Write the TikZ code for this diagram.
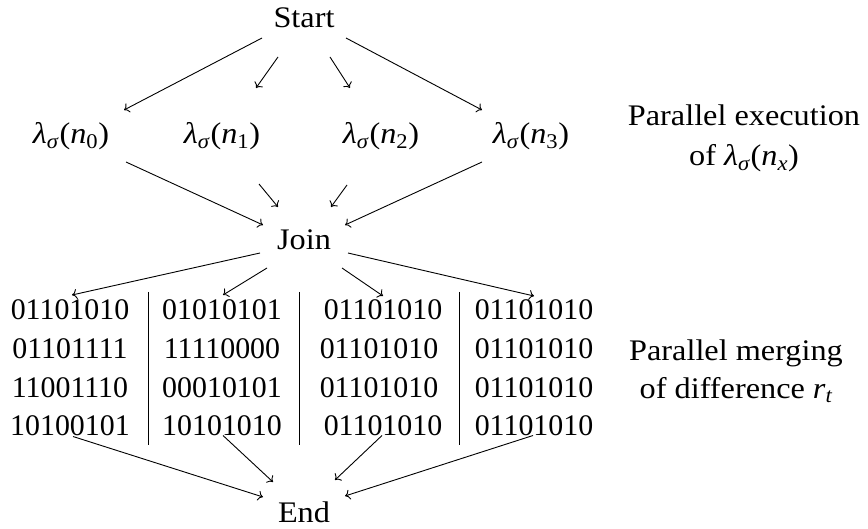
\RequirePackage{fix-cm}
\documentclass[tikz,border=0pt]{standalone}
\usepackage{fontspec}
\setmainfont{Liberation Serif}
% slightly wider face for the words and formulas
\newfontfamily\widefont[FakeStretch=1.08]{Liberation Serif}
\usetikzlibrary{arrows.meta,calc}
% lambda_sigma(n_x) set in the italic of the text face
\newcommand{\lamsig}[1]{{\itshape λ}\textsubscript{\itshape σ}\kern1pt({\itshape n}\textsubscript{#1})}
\begin{document}
\begin{tikzpicture}[x=1bp,y=-1bp,
  lbl/.style={anchor=base,inner sep=0pt,font=\fontsize{30}{36}\selectfont},
  wlbl/.style={lbl,font=\fontsize{30}{36}\widefont},
  flow/.style={-{To[length=5bp,width=10bp]},line width=0.9bp},
  sep/.style={line width=0.8bp}]
\useasboundingbox (0,0) rectangle (868,529);

% top: start and the four parallel executions
\node[wlbl] (start) at (304,28) {Start};
\node[wlbl] (n0) at (71,144)  {\lamsig{0}};
\node[wlbl] (n1) at (222,144) {\lamsig{1}};
\node[wlbl] (n2) at (381,144) {\lamsig{2}};
\node[wlbl] (n3) at (531,144) {\lamsig{3}};
\node[wlbl] (join) at (304,250) {Join};
\node[wlbl] (end) at (304,522) {End};

% side captions
\node[wlbl] (exec1) at (744,126) {Parallel execution};
\node[wlbl] (exec2) at (744,166) {of \lamsig{\itshape x}};
\node[wlbl] (merge1) at (736,360) {Parallel merging};
\node[wlbl] (merge2) at (736,398) {of difference {\itshape r}\textsubscript{\itshape t}};

% bit blocks, one node per cell
\node[lbl] (c11) at (70,320)   {01101010};
\node[lbl] (c21) at (70,358.5) {01101111};
\node[lbl] (c31) at (70,397)   {11001110};
\node[lbl] (c41) at (70,435.5) {10100101};

\node[lbl] (c12) at (222,320)   {01010101};
\node[lbl] (c22) at (222,358.5) {11110000};
\node[lbl] (c32) at (222,397)   {00010101};
\node[lbl] (c42) at (222,435.5) {10101010};

\node[lbl] (c13) at (383,320)   {01101010};
\node[lbl] (c23) at (379,358.5) {01101010};
\node[lbl] (c33) at (379,397)   {01101010};
\node[lbl] (c43) at (383,435.5) {01101010};

\node[lbl] (c14) at (534,320)   {01101010};
\node[lbl] (c24) at (534,358.5) {01101010};
\node[lbl] (c34) at (534,397)   {01101010};
\node[lbl] (c44) at (534,435.5) {01101010};

% column separators
\draw[sep] (148,292) -- (148,445);
\draw[sep] (299,292) -- (299,445);
\draw[sep] (459,292) -- (459,445);

% start -> executions
\draw[flow] ($(start.base)+(-42,10)$) -- ($(n0.base)+(53,-34)$);
\draw[flow] ($(start.base)+(-26,29)$) -- ($(n1.base)+(34,-56)$);
\draw[flow] ($(start.base)+(26,29)$)  -- ($(n2.base)+(-31,-56)$);
\draw[flow] ($(start.base)+(42,10)$)  -- ($(n3.base)+(-49,-34)$);

% executions -> join
\draw[flow] ($(n0.base)+(55,18)$)  -- ($(join.base)+(-41,-25)$);
\draw[flow] ($(n1.base)+(37,40)$)  -- ($(join.base)+(-26,-43)$);
\draw[flow] ($(n2.base)+(-34,41)$) -- ($(join.base)+(27,-43)$);
\draw[flow] ($(n3.base)+(-49,18)$) -- ($(join.base)+(41,-25)$);

% join -> bit blocks
\draw[flow] ($(join.base)+(-44,3)$)  -- ($(c11.base)+(2,-25)$);
\draw[flow] ($(join.base)+(-37,18)$) -- ($(c12.base)+(1,-25)$);
\draw[flow] ($(join.base)+(38,18)$)  -- ($(c13.base)+(0,-24)$);
\draw[flow] ($(join.base)+(44,3)$)   -- ($(c14.base)+(0,-24)$);

% bit blocks -> end
\draw[flow] ($(c41.base)+(3,1)$)  -- ($(end.base)+(-41,-25)$);
\draw[flow] ($(c42.base)+(1,0)$)  -- ($(end.base)+(-31,-40)$);
\draw[flow] ($(c43.base)+(-1,0)$) -- ($(end.base)+(31,-42)$);
\draw[flow] ($(c44.base)+(-1,0)$) -- ($(end.base)+(41,-26)$);
\end{tikzpicture}
\end{document}
